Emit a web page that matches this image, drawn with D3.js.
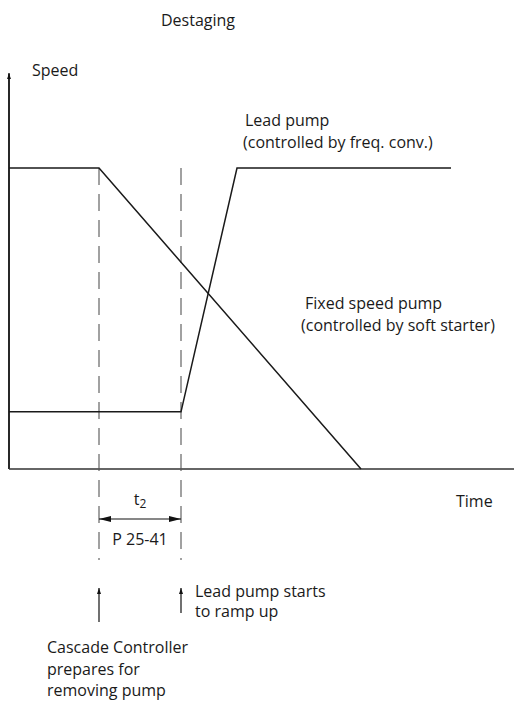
<!DOCTYPE html>
<html>
<head>
<meta charset="utf-8">
<script src="https://cdn.jsdelivr.net/npm/d3@7"></script>
<style>
  html, body { margin: 0; padding: 0; background: #fff; }
  svg { display: block; }
  text { font-family: "Open Sans", "Noto Sans", sans-serif; font-size: 16px; fill: #1a1a1a; }
</style>
</head>
<body>
<svg id="chart" width="514" height="702"></svg>
<script>
// Time axis in arbitrary units, speed in percent of full speed.
const fixedPumpTime  = [0, 18, 70.4];
const fixedPumpSpeed = [100, 100, 0];
const leadPumpTime   = [0, 34.4, 45.6, 88.4];
const leadPumpSpeed  = [19, 19, 100, 100];
const markerTimes    = [18, 34.4];           // controller prepares / lead pump ramps
const axisLabels     = ["Speed", "Time"];
const title          = "Destaging";
const intervalLabels = ["t", "2", "P 25-41"];

const svg = d3.select("#chart");

const x = d3.scaleLinear().domain([0, 101]).range([9, 514]);
const y = d3.scaleLinear().domain([0, 100]).range([469, 168]);

const defs = svg.append("defs");
function head(id, orient, len, wid) {
  defs.append("marker")
    .attr("id", id)
    .attr("viewBox", "0 0 10 10")
    .attr("refX", 10).attr("refY", 5)
    .attr("markerWidth", len).attr("markerHeight", wid)
    .attr("markerUnits", "userSpaceOnUse")
    .attr("preserveAspectRatio", "none")
    .attr("orient", orient)
    .append("path").attr("d", "M0,0 L10,5 L0,10 Z").attr("fill", "#111");
}
head("arrowSmall", "auto", 6, 4);
head("arrowDim", "auto", 12, 6);
head("arrowDimStart", "auto-start-reverse", 12, 6);

// Axes
svg.append("line")
  .attr("x1", x(0)).attr("x2", x(0))
  .attr("y1", y(0)).attr("y2", y(131.5))
  .attr("stroke", "#111").attr("stroke-width", 1.8)
  .attr("marker-end", "url(#arrowSmall)");
svg.append("line")
  .attr("x1", x(0)).attr("x2", x(101))
  .attr("y1", y(0)).attr("y2", y(0))
  .attr("stroke", "#333").attr("stroke-width", 1.5);

// Dashed markers
svg.selectAll("line.marker").data(markerTimes).enter().append("line")
  .attr("class", "marker")
  .attr("x1", d => x(d)).attr("x2", d => x(d))
  .attr("y1", y(100)).attr("y2", 560)
  .attr("stroke", "#555").attr("stroke-width", 1.1)
  .attr("stroke-dasharray", "17,9");

const line = d3.line().x(d => x(d[0])).y(d => y(d[1]));

svg.append("path")
  .datum(fixedPumpTime.map((t, i) => [t, fixedPumpSpeed[i]]))
  .attr("d", line).attr("fill", "none")
  .attr("stroke", "#1a1a1a").attr("stroke-width", 1.5);

svg.append("path")
  .datum(leadPumpTime.map((t, i) => [t, leadPumpSpeed[i]]))
  .attr("d", line).attr("fill", "none")
  .attr("stroke", "#1a1a1a").attr("stroke-width", 1.5);

// Interval dimension between the two markers
svg.append("line")
  .attr("x1", x(markerTimes[0])).attr("x2", x(markerTimes[1]))
  .attr("y1", 519).attr("y2", 519)
  .attr("stroke", "#111").attr("stroke-width", 1.1)
  .attr("marker-start", "url(#arrowDimStart)")
  .attr("marker-end", "url(#arrowDim)");

const mid = (x(markerTimes[0]) + x(markerTimes[1])) / 2;
const t2 = svg.append("text").attr("x", mid).attr("y", 505).attr("text-anchor", "middle");
t2.append("tspan").text(intervalLabels[0]);
t2.append("tspan").attr("dy", 3).attr("font-size", "12px").text(intervalLabels[1]);
svg.append("text").attr("x", mid).attr("y", 545).attr("text-anchor", "middle").text(intervalLabels[2]);

// Event arrows below the markers
svg.append("line")
  .attr("x1", x(markerTimes[0])).attr("x2", x(markerTimes[0]))
  .attr("y1", 622).attr("y2", 588)
  .attr("stroke", "#111").attr("stroke-width", 1.2)
  .attr("marker-end", "url(#arrowSmall)");
svg.append("line")
  .attr("x1", x(markerTimes[1])).attr("x2", x(markerTimes[1]))
  .attr("y1", 613).attr("y2", 588)
  .attr("stroke", "#111").attr("stroke-width", 1.2)
  .attr("marker-end", "url(#arrowSmall)");

// Labels
function block(lines, x0, y0, lh) {
  const t = svg.append("text");
  lines.forEach((s, i) => t.append("tspan").attr("x", x0).attr("y", y0 + i * lh).text(s));
}
svg.append("text").attr("x", 198).attr("y", 26).attr("text-anchor", "middle").text(title);
svg.append("text").attr("x", 32).attr("y", 76).text(axisLabels[0]);
svg.append("text").attr("x", 456).attr("y", 507).text(axisLabels[1]);
block(["Lead pump"], 245, 126, 22);
block(["(controlled by freq. conv.)"], 243, 148, 22);
block(["Fixed speed pump"], 305, 309, 22);
block(["(controlled by soft starter)"], 301, 331, 22);
block(["Lead pump starts", "to ramp up"], 195, 597, 20);
block(["Cascade Controller", "prepares for", "removing pump"], 47, 653, 21.5);
</script>
</body>
</html>
